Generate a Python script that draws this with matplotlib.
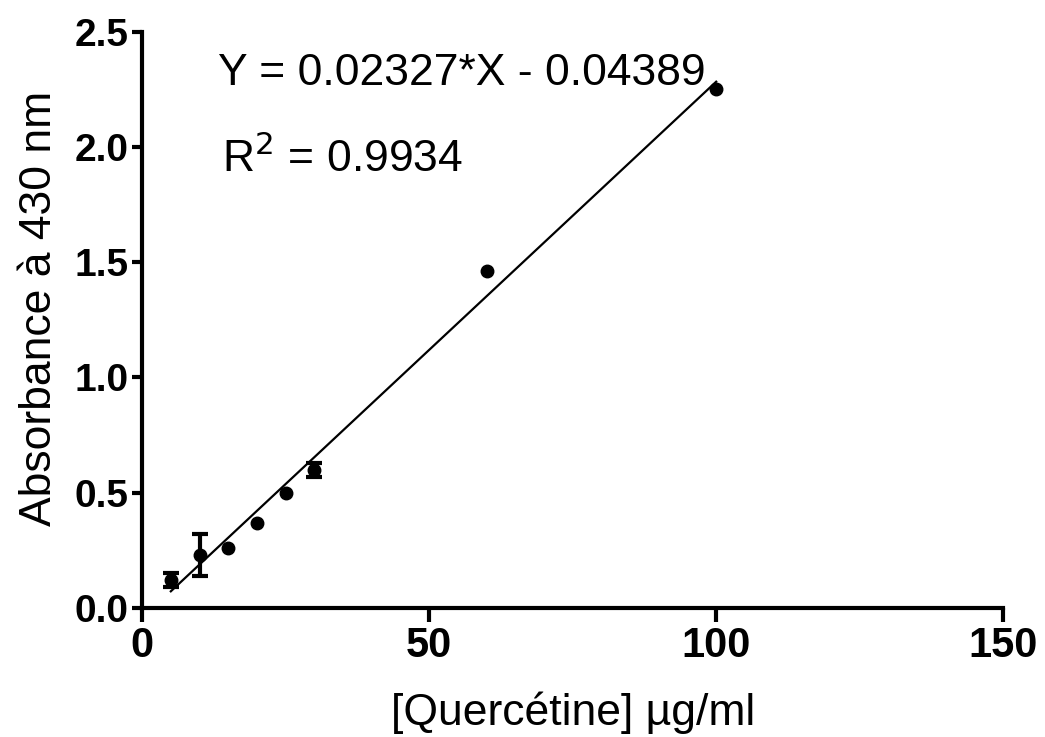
import numpy as np
import matplotlib
matplotlib.use("Agg")
import matplotlib.pyplot as plt

plt.rcParams['font.family'] = ['Liberation Sans', 'DejaVu Sans']

# concentration (µg/ml), absorbance, SD
conc = [5, 10, 15, 20, 25, 30, 60, 100]
absorb = [0.12, 0.23, 0.26, 0.37, 0.50, 0.60, 1.46, 2.25]
sd = [0.03, 0.09, 0.0, 0.0, 0.0, 0.03, 0.0, 0.0]
slope = 0.02327
intercept = -0.04389

fig = plt.figure(figsize=(10.45, 7.37), dpi=100)
ax = fig.add_axes([0.136, 0.175, 0.824, 0.782])

# error bars only where there is a visible SD
eb_x = [c for c, s in zip(conc, sd) if s > 0]
eb_y = [a for a, s in zip(absorb, sd) if s > 0]
eb_s = [s for s in sd if s > 0]
ax.errorbar(eb_x, eb_y, yerr=eb_s, fmt='none', ecolor='black',
            capsize=6, capthick=3, elinewidth=3)
ax.plot(conc, absorb, 'o', color='black', ms=9)

xfit = np.array([conc[0], conc[-1]])
ax.plot(xfit, slope * xfit + intercept, color='black', lw=1.6)

ax.text(13.2, 2.27, 'Y = 0.02327*X - 0.04389', fontsize=32)
ax.text(14.0, 1.89, 'R$^2$ = 0.9934', fontsize=32)

ax.set_xlim(0, 150)
ax.set_ylim(0, 2.5)
ax.set_xticks([0, 50, 100, 150])
ax.set_yticks([0, 0.5, 1.0, 1.5, 2.0, 2.5])
ax.set_yticklabels(['0.0', '0.5', '1.0', '1.5', '2.0', '2.5'])
for s in ['top', 'right']:
    ax.spines[s].set_visible(False)
for s in ['left', 'bottom']:
    ax.spines[s].set_linewidth(3)
ax.tick_params(axis='x', width=3, length=10, labelsize=30, pad=3)
ax.tick_params(axis='y', width=3, length=7, labelsize=28, pad=3)
for lab in ax.get_xticklabels() + ax.get_yticklabels():
    lab.set_fontweight('bold')

ax.set_xlabel('[Quercétine] µg/ml', fontsize=32, labelpad=18)
ax.set_ylabel('Absorbance à 430 nm', fontsize=32, labelpad=10)
ax.yaxis.label.set_y(0.52)

plt.savefig('out.png', dpi=100)
